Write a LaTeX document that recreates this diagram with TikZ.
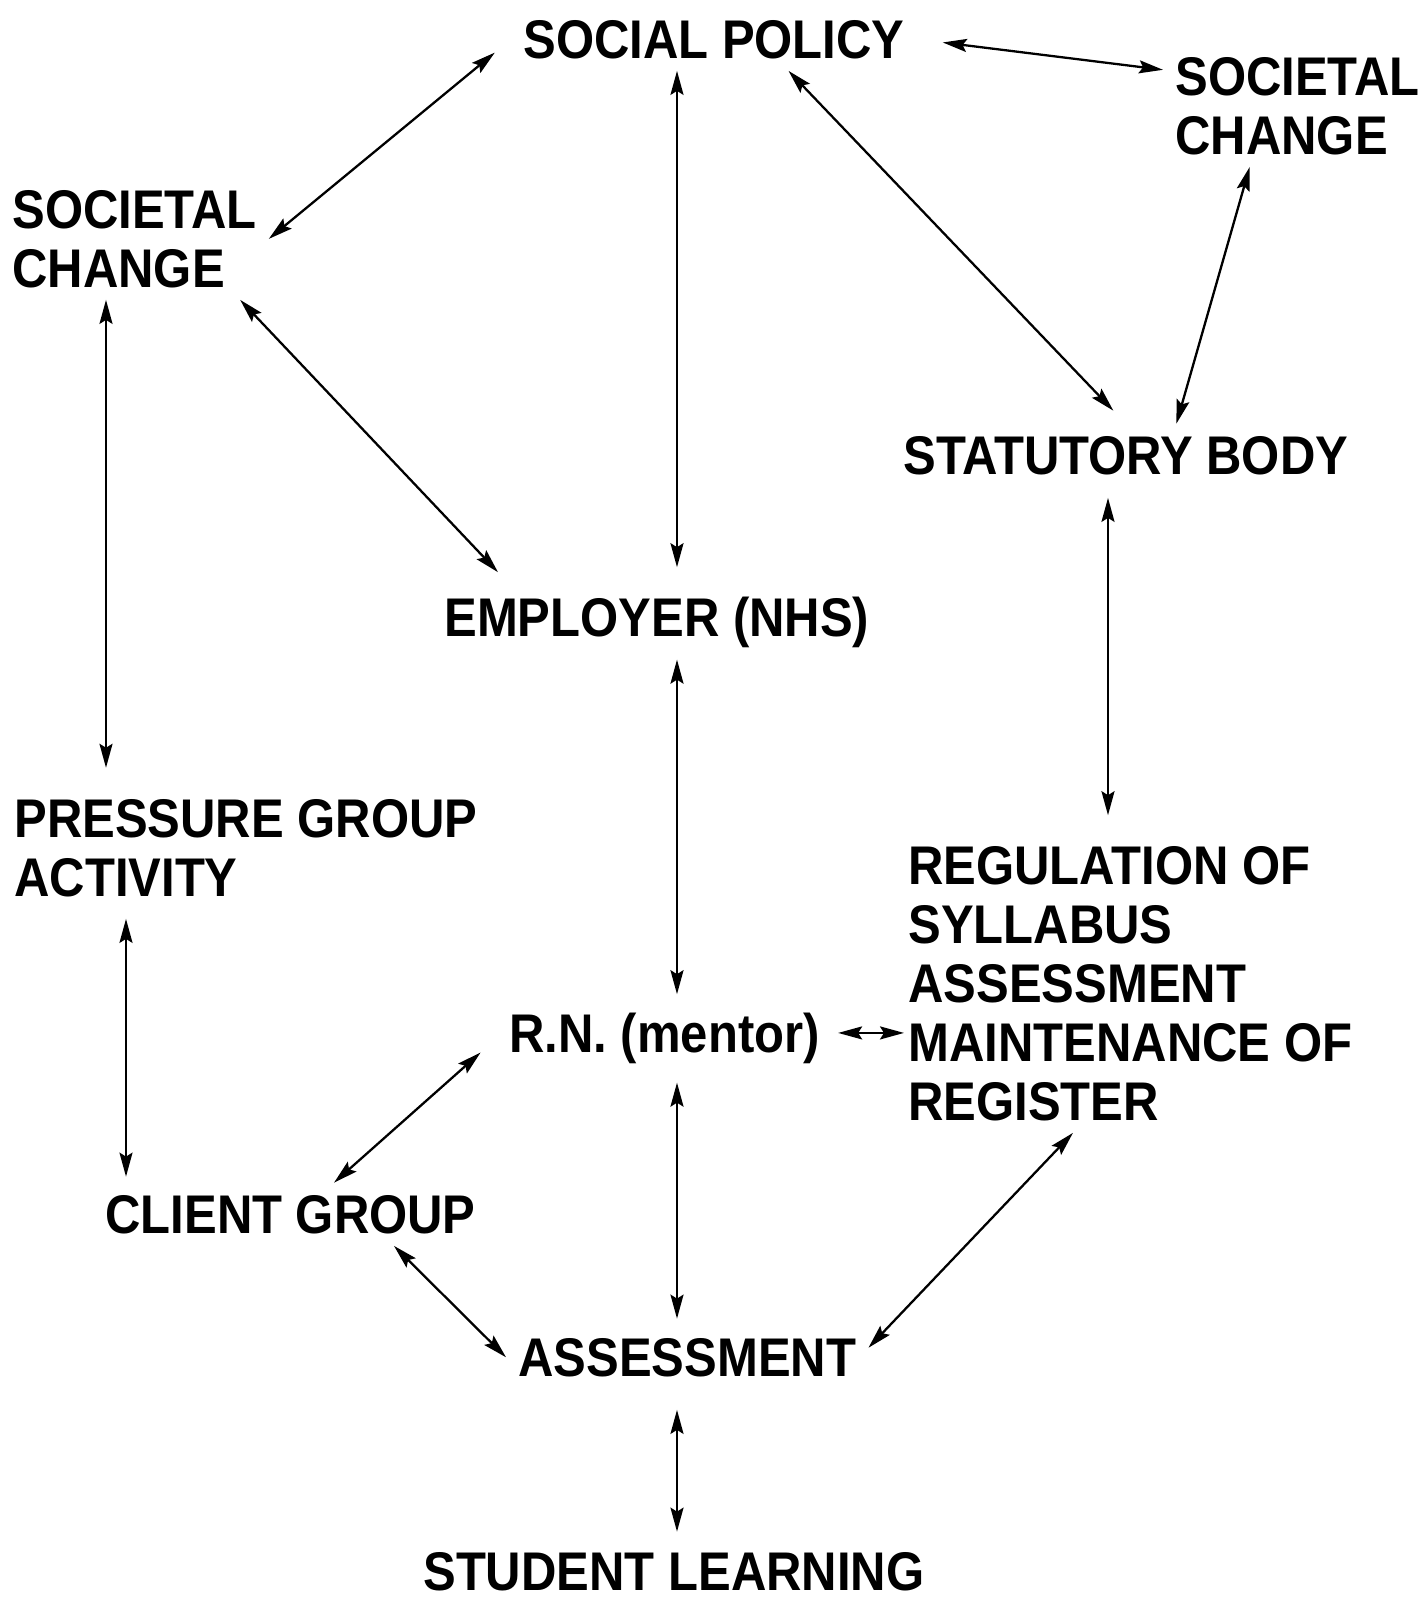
\documentclass[tikz,border=0pt]{standalone}
\usepackage{fontspec}
\newfontfamily\diagfont{Liberation Sans}[FakeStretch=0.9]
\usetikzlibrary{arrows.meta, calc}

\begin{document}
\begin{tikzpicture}[
    x=0.02cm, y=-0.02cm,
    term/.style={anchor=base west, inner sep=0.24cm, align=left,
        font=\diagfont\bfseries\fontsize{31}{33.5}\selectfont},
    link/.style={{Stealth[length=0.48cm, width=0.26cm, inset=0.08cm]}-{Stealth[length=0.48cm, width=0.26cm, inset=0.08cm]}, line width=1.3pt}
]
\useasboundingbox (0,0) rectangle (1418,1600);

% Terms (base = last line)
\node[term] (social)     at (511,58)   {SOCIAL POLICY};
\node[term] (rsoc)       at (1163,154) {SOCIETAL\\CHANGE};
\node[term] (lsoc)       at (0,287)    {SOCIETAL\\CHANGE};
\node[term] (statutory)  at (891,474)  {STATUTORY BODY};
\node[term] (employer)   at (432,636)  {EMPLOYER (NHS)};
\node[term] (pressure)   at (2,896)    {PRESSURE GROUP\\ACTIVITY};
\node[term] (regulation) at (896,1120) {REGULATION OF\\SYLLABUS\\ASSESSMENT\\MAINTENANCE OF\\REGISTER};
\node[term] (rn)         at (497,1052) {R.N. (mentor)};
\node[term] (client)     at (93,1233)  {CLIENT GROUP};
\node[term] (assess)     at (506,1376) {ASSESSMENT};
\node[term] (student)    at (411,1590) {STUDENT LEARNING};

% Columns for the vertical links
\coordinate (spine) at (677,0);
\coordinate (lcol)  at (106,0);
\coordinate (lcol2) at (126,0);
\coordinate (rcol)  at (1108,0);

% Links
\draw[link, shorten <=0.42cm] (social.west) -- (lsoc.east);
\draw[link, shorten >=0.34cm] (social.south -| spine) -- (employer.north -| spine);
\draw[link, shorten <=0.52cm] (social.east) -- (rsoc.165);
\draw[link, shorten >=0.36cm] (social.-23) -- (statutory.north);
\draw[link] (rsoc.-128) -- (statutory.32);
\draw[link] (lsoc.-30) -- ([xshift=1.32cm, yshift=0.24cm]employer.north west);
\draw[link, shorten >=0.38cm] (lsoc.south -| lcol) -- (pressure.north -| lcol);
\draw[link, shorten <=0.22cm, shorten >=0.38cm] (statutory.south -| rcol) -- (regulation.north -| rcol);
\draw[link, shorten >=0.12cm] (employer.south -| spine) -- (rn.north -| spine);
\draw[link, shorten <=0.2cm, shorten >=0.12cm] (pressure.south -| lcol2) -- (client.north -| lcol2);
\draw[link, shorten <=0.12cm, shorten >=-0.16cm] ([yshift=0.1cm]rn.east) -- ([yshift=0.1cm]rn.east -| regulation.west);
\draw[link, shorten <=0.44cm] (rn.west) -- (client.36);
\draw[link, shorten <=0.14cm, shorten >=0.14cm] (rn.south -| spine) -- (assess.north -| spine);
\draw[link] (client.-17) -- (assess.west);
\draw[link] (regulation.-111) -- (assess.3);
\draw[link, shorten <=0.42cm, shorten >=0.16cm] (assess.south -| spine) -- (student.north -| spine);

\end{tikzpicture}
\end{document}
